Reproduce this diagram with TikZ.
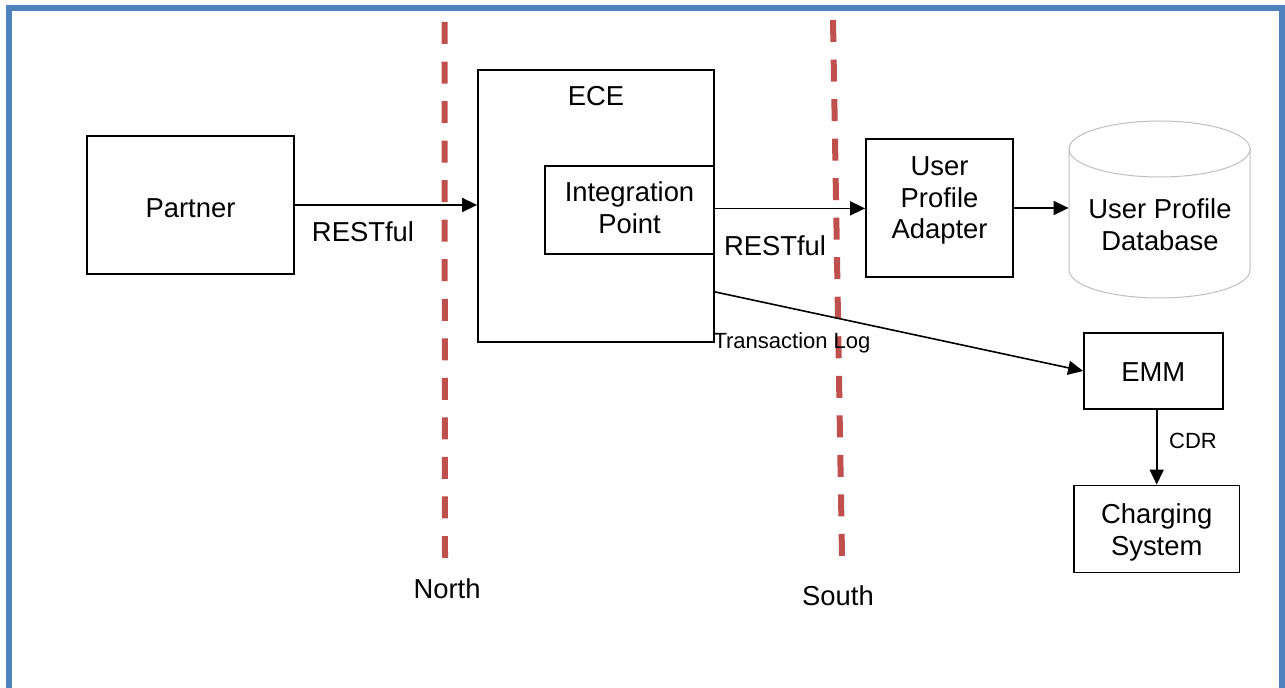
\documentclass[tikz,border=0pt]{standalone}
\usepackage{fontspec}
\setmainfont{Liberation Sans}
\usetikzlibrary{arrows.meta}
\definecolor{frameblue}{HTML}{4F81BD}
\definecolor{zonered}{HTML}{C0504D}
\definecolor{cylgray}{HTML}{BFBFBF}
\tikzset{
  box/.style={draw=black, line width=0.9pt, fill=white, inner sep=0pt},
  txt/.style={align=center, inner sep=0pt, font=\fontsize{13.7}{15.8}\selectfont},
  smalltxt/.style={align=center, inner sep=0pt, font=\fontsize{11}{13}\selectfont},
  conn/.style={draw=black, line width=0.8pt, -{Triangle[length=7.5pt,width=7pt]}},
  zone/.style={draw=zonered, line width=3pt, dash pattern=on 11pt off 8.77pt},
  frame/.style={draw=frameblue, line width=3.2pt},
}
\begin{document}
\begin{tikzpicture}[x=0.5pt,y=-0.5pt]
\clip (0,0) rectangle (1285,688);
\fill[white] (0,0) rectangle (1285,688);
\draw[frame] (8.7,8) rectangle (1281.7,720);

% zone boundaries
\coordinate (n1) at (444.5,22);
\coordinate (n2) at (445,558);
\coordinate (s1) at (833,20);
\coordinate (s2) at (842,556);
\draw[zone] (n1) -- (n2);
\draw[zone] (s1) -- (s2);
\node[txt] (north) at (447,589) {North};
\node[txt] (south) at (838,596) {South};

% boxes
\node[box, minimum width=103.5pt, minimum height=69pt] (partner) at (190.5,205) {};
\node[txt] (partnertext) at (190.5,208) {Partner};
\node[box, minimum width=118pt, minimum height=136pt, fill=none] (ece) at (596,206) {};
\node[txt] (ecelabel) at (596,96) {ECE};
\node[box, minimum width=84.5pt, minimum height=44pt] (ip) at (629.5,210) {};
\node[txt] (iptext) at (629.5,208) {Integration\\Point};
\node[box, minimum width=73.5pt, minimum height=69pt] (upa) at (939.5,208) {};
\node[txt] (upatext) at (939.5,200.7) {User\\Profile\\Adapter};
\node[box, minimum width=69.3pt, minimum height=38pt] (emm) at (1153.3,371) {};
\node[txt] (emmtext) at (1153.3,372) {EMM};
\node[box, minimum width=82.7pt, minimum height=43.5pt] (charging) at (1156.7,529) {};
\node[txt] (chargingtext) at (1156.7,532.5) {Charging\\System};

% database cylinder
\draw[cylgray, line width=0.5pt, fill=white] (1069,149) -- (1069,270)
  arc[start angle=180, end angle=0, x radius=90.5, y radius=28] -- (1250,149);
\draw[cylgray, line width=0.5pt] (1159.5,149) ellipse [x radius=90.5, y radius=28];
\node[inner sep=0pt, minimum width=90.5pt, minimum height=60.5pt] (db) at (1159.5,209.5) {};
\node[txt] (dblabel) at (1160,225) {User Profile\\Database};

% connectors
\draw[conn] (partner.east) -- (partner.east -| ece.west);
\node[txt] (rest1) at (363,232) {RESTful};
\draw[conn] ([yshift=0.8pt]ip.east) -- ([yshift=0.8pt]ip.east -| upa.west);
\node[txt] (rest2) at (775,246) {RESTful};
\draw[conn] (upa.east) -- (upa.east -| db.west);
\draw[conn] ([yshift=25.5pt]ece.south east) -- (emm.west);
\node[smalltxt] (tlog) at (792,343) {Transaction Log};
\draw[conn] (charging.north |- emm.south) -- (charging.north);
\node[smalltxt] (cdr) at (1193,441) {CDR};
\end{tikzpicture}
\end{document}
